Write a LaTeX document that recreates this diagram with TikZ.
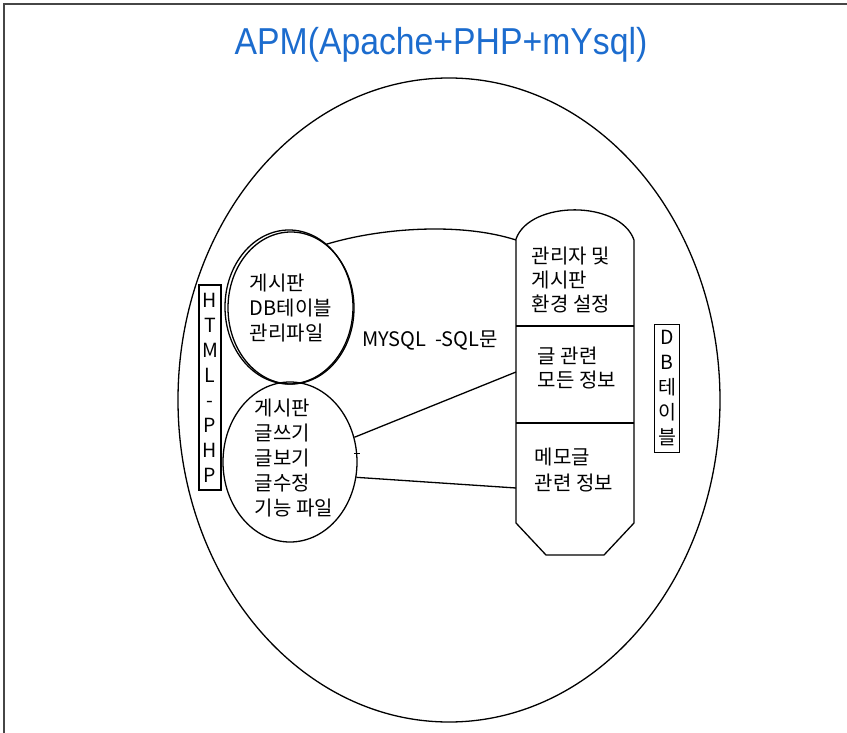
\documentclass[tikz,border=0pt]{standalone}
\usepackage{graphicx}
\usepackage{fontspec}
\setmainfont{Noto Sans CJK KR}
\newfontfamily\titlefont{Liberation Sans}
\usetikzlibrary{shapes.geometric}
\definecolor{titleblue}{RGB}{28,108,206}
\definecolor{framegray}{RGB}{70,70,70}

\begin{document}
\begin{tikzpicture}[x=1pt, y=-1pt,
    line width=1.3pt,
    phpfile/.style={draw, ellipse, inner sep=0pt},
    filetext/.style={align=left, font=\fontsize{20}{25}\selectfont},
    vbox/.style={draw, inner xsep=3pt, align=center, font=\fontsize{19.5}{25}\selectfont},
    txt/.style={anchor=west, align=left, font=\fontsize{20}{24}\selectfont}
]
\useasboundingbox (0,0) rectangle (847,733);

% frame and title
\draw[framegray, line width=1.5pt] (4,733) -- (4,4) -- (847,4);
\node[text=titleblue, font=\titlefont\fontsize{37.5}{38}\selectfont] (title) at (441,45)
    {\scalebox{0.9}[1]{APM(Apache+PHP+mYsql)}};

\node[phpfile, minimum width=542, minimum height=644] (apm) at (449,400) {};

% php files
\node[phpfile, minimum width=126, minimum height=152] (dbfile) at (291,308) {};
\draw (289,307) ellipse [x radius=64, y radius=77];
\node[filetext] (dbfiletext) at (dbfile.center) {게시판\\DB테이블\\관리파일};
\node[phpfile, minimum width=134, minimum height=160] (funcfile) at (290,462) {};
\node[filetext] (funcfiletext) at (294,458) {게시판\\글쓰기\\글보기\\글수정\\기능 파일};

\node[vbox, inner ysep=8pt, minimum width=22] (html) at (210,387.5) {H\\T\\M\\L\\-\\P\\H\\P};
\node[vbox, inner ysep=6pt, minimum width=25] (dbtable) at (667,388.5) {D\\B\\테\\이\\블};

% db table
\draw (516,523) -- (516,239) .. controls (530,200) and (620,200) .. (634,240)
    -- (634,523) -- (604,555) -- (546,555) -- cycle;
\draw (516,326) -- (634,326);
\draw (516,423) -- (634,423);
\coordinate (cfg) at (516,240);
\coordinate (post) at (516,372);
\coordinate (memo) at (516,488);

\node[txt] (cfgtext) at (528,280) {관리자 및\\게시판\\환경 설정};
\node[txt] (posttext) at (534,368) {글 관련\\모든 정보};
\node[txt, font=\fontsize{20}{26}\selectfont] (memotext) at (531,470) {메모글\\관련 정보};

% sql connections
\node[font=\fontsize{20}{24}\selectfont] (sql) at (430,340) {MYSQL\ \ -SQL문};
\draw (dbfile.61) .. controls (380,228) and (460,222) .. (cfg);
\draw (funcfile.21) -- (post);
\draw (funcfile.-13) -- (memo);
\draw ([xshift=-3pt]funcfile.7) -- ++(6,0);

\end{tikzpicture}
\end{document}
